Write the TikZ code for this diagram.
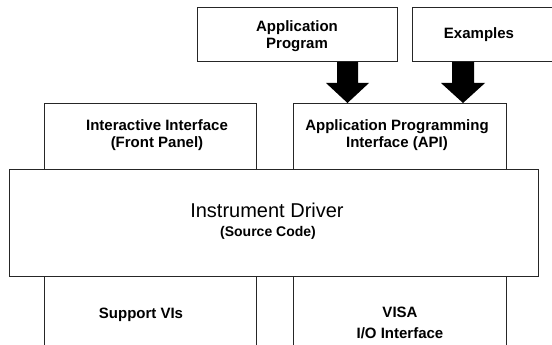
\documentclass[tikz,border=0pt]{standalone}
\usepackage{fontspec}
\setmainfont{Liberation Sans}
\begin{document}
\begin{tikzpicture}[x=1pt,y=-1pt,
  box/.style={draw=black!85, line width=1pt, inner sep=0pt},
  lbl/.style={font=\fontsize{15}{17}\selectfont\bfseries, align=center, inner sep=0pt},
  blockarrow/.style={fill=black}
]
\useasboundingbox (0,0) rectangle (552,345);
\clip (0,0) rectangle (552,345);
% columns (open at bottom)
\node[box, anchor=north west, minimum width=212, minimum height=262] (ii) at (44,103) {};
\node[box, anchor=north west, minimum width=213, minimum height=262] (api) at (293,103) {};
% top boxes
\node[box, anchor=north west, minimum width=200, minimum height=54] (app) at (197,7) {};
\node[box, anchor=north west, minimum width=139.5, minimum height=54] (ex) at (412,7) {};
% driver box
\node[box, fill=white, anchor=north west, minimum width=529, minimum height=107] (drv) at (9,169) {};
% block arrows
\coordinate (a1) at (347.5,62);
\coordinate (a2) at (463,62);
\fill[blockarrow] (a1) ++(-10.5,0) -- ++(21,0) -- ++(0,21) -- ++(11,0) -- ++(-21.5,20) -- ++(-21.5,-20) -- ++(11,0) -- cycle;
\fill[blockarrow] (a2) ++(-11,0) -- ++(22,0) -- ++(0,21) -- ++(11,0) -- ++(-22,20) -- ++(-22,-20) -- ++(11,0) -- cycle;
% labels
\node[lbl] (tapp) at (297,36.5) {Application\\Program};
\node[lbl] (tex) at (479,35) {Examples};
\node[lbl] (tii) at (157,135.5) {Interactive Interface\\(Front Panel)};
\node[lbl] (tapi) at (397,135.5) {Application Programming\\Interface (API)};
\node[font=\fontsize{20}{23}\selectfont, inner sep=0pt] (tdrv) at (267,210) {Instrument Driver};
\node[font=\fontsize{14}{16}\selectfont\bfseries, inner sep=0pt] (tsrc) at (268,233) {(Source Code)};
\node[lbl] (tsup) at (141,315) {Support VIs};
\node[lbl, font=\fontsize{15}{21}\selectfont\bfseries] (tvisa) at (400,323) {VISA\\I/O Interface};
\end{tikzpicture}
\end{document}
